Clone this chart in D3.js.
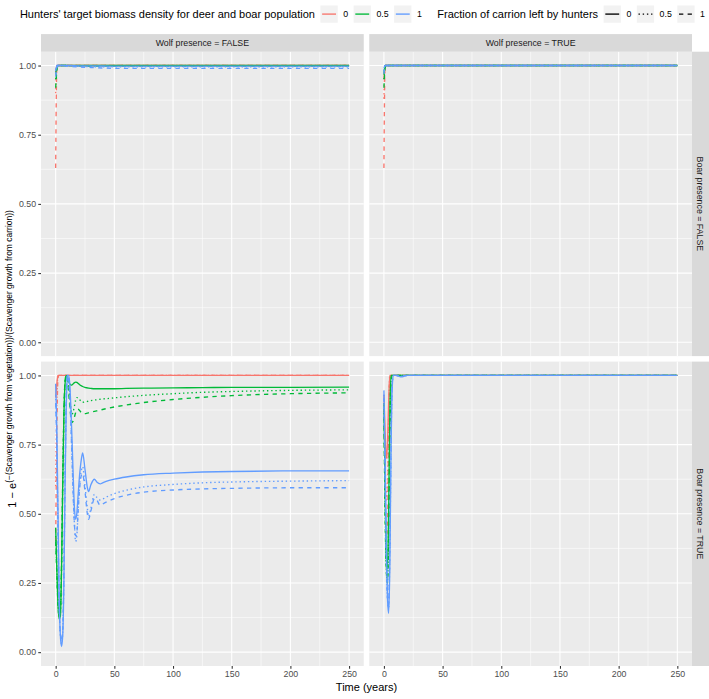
<!DOCTYPE html>
<html>
<head>
<meta charset="utf-8">
<script src="https://cdn.jsdelivr.net/npm/d3@7"></script>
<style>
  body { margin: 0; background: #fff; }
  svg { font-family: "Liberation Sans", Arial, sans-serif; }
</style>
</head>
<body>
<div id="chart"></div>
<script>
// facet labels
const wolfLevels = ["FALSE", "TRUE"];
const boarLevels = ["FALSE", "TRUE"];
const targetLevels = ["0", "0.5", "1"];
const carrionLevels = ["0", "0.5", "1"];
const targetColors = ["#F8766D", "#00BA38", "#619CFF"];
const xTicks = [0, 50, 100, 150, 200, 250];
const yTicks = [0, 0.25, 0.5, 0.75, 1];

// Wolf FALSE, Boar FALSE
const tTopLeft = [0, 1, 2, 3, 5, 10, 20, 30, 50, 75, 100, 150, 200, 250];
const tlR0  = [0.97, 1, 1, 1, 1, 1, 1, 1, 1, 1, 1, 1, 1, 1];
const tlR05 = [0.90, 1, 1, 1, 1, 1, 1, 1, 1, 1, 1, 1, 1, 1];
const tlR1  = [0.63, 0.99, 1, 1, 1, 1, 1, 1, 1, 1, 1, 1, 1, 1];
const tlG0  = [0.97, 0.995, 1, 1, 1, 1, 1, 1, 1, 1, 1, 1, 1, 1];
const tlG05 = [0.95, 0.99, 1, 1, 1, 1, 0.999, 0.999, 0.999, 0.999, 0.999, 0.999, 0.999, 0.999];
const tlG1  = [0.92, 0.98, 1, 1, 1, 1, 0.999, 0.998, 0.998, 0.998, 0.998, 0.998, 0.998, 0.998];
const tlB0  = [0.98, 1, 1, 1, 1, 1, 0.999, 0.999, 0.998, 0.998, 0.998, 0.998, 0.998, 0.998];
const tlB05 = [0.97, 1, 1, 1, 1, 0.999, 0.997, 0.996, 0.995, 0.995, 0.995, 0.995, 0.995, 0.995];
const tlB1  = [0.96, 0.99, 1, 1, 1, 0.998, 0.995, 0.993, 0.99, 0.99, 0.99, 0.99, 0.99, 0.99];

// Wolf TRUE, Boar FALSE
const tTopRight = [0, 1, 2, 3, 5, 10, 20, 50, 100, 250];
const trR0  = [0.95, 1, 1, 1, 1, 1, 1, 1, 1, 1];
const trR05 = [0.88, 1, 1, 1, 1, 1, 1, 1, 1, 1];
const trR1  = [0.63, 1, 1, 1, 1, 1, 1, 1, 1, 1];
const trG0  = [0.97, 1, 1, 1, 1, 1, 1, 1, 1, 1];
const trG05 = [0.95, 1, 1, 1, 1, 1, 1, 1, 1, 1];
const trG1  = [0.92, 0.99, 1, 1, 1, 1, 1, 1, 1, 1];
const trB0  = [0.99, 1, 1, 1, 1, 1, 1, 1, 1, 1];
const trB05 = [0.98, 1, 1, 1, 1, 1, 1, 1, 1, 1];
const trB1  = [0.97, 1, 1, 1, 1, 1, 1, 1, 1, 1];

// Wolf FALSE, Boar TRUE
const tBotLeft = [0, 1, 2, 3, 4, 5, 6, 7, 8, 9, 10, 11, 12, 13, 14, 15, 16, 17, 18, 19, 20, 22, 23, 25, 27, 28, 30, 33, 35, 38, 40, 43, 50, 60, 75, 100, 125, 150, 200, 250];
const blR0  = [0.92, 0.97, 1, 1, 1, 1, 1, 1, 1, 1, 1, 1, 1, 1, 1, 1, 1, 1, 1, 1, 1, 1, 1, 1, 1, 1, 1, 1, 1, 1, 1, 1, 1, 1, 1, 1, 1, 1, 1, 1];
const blR05 = [0.60, 0.90, 1, 1, 1, 1, 1, 1, 1, 1, 1, 1, 1, 1, 1, 1, 1, 1, 1, 1, 1, 1, 1, 1, 1, 1, 1, 1, 1, 1, 1, 1, 1, 1, 1, 1, 1, 1, 1, 1];
const blR1  = [0.40, 0.80, 0.99, 1, 1, 1, 1, 1, 1, 1, 1, 1, 1, 1, 1, 1, 1, 1, 1, 1, 1, 1, 1, 1, 1, 1, 1, 1, 1, 1, 1, 1, 1, 1, 1, 1, 1, 1, 1, 1];
const blG0  = [0.45, 0.30, 0.17, 0.12, 0.13, 0.30, 0.60, 0.85, 0.97, 1.0, 0.995, 0.98, 0.97, 0.965, 0.966, 0.97, 0.974, 0.976, 0.975, 0.972, 0.968, 0.962, 0.96, 0.957, 0.955, 0.954, 0.953, 0.952, 0.952, 0.952, 0.952, 0.952, 0.952, 0.953, 0.954, 0.955, 0.956, 0.957, 0.957, 0.958];
const blG05 = [0.42, 0.30, 0.18, 0.13, 0.14, 0.30, 0.60, 0.85, 0.98, 1.0, 0.99, 0.96, 0.92, 0.88, 0.86, 0.87, 0.89, 0.91, 0.92, 0.92, 0.915, 0.905, 0.903, 0.904, 0.906, 0.907, 0.909, 0.911, 0.912, 0.914, 0.915, 0.916, 0.919, 0.923, 0.928, 0.934, 0.939, 0.942, 0.946, 0.948];
const blG1  = [0.40, 0.28, 0.17, 0.13, 0.15, 0.32, 0.62, 0.86, 0.98, 1.0, 0.98, 0.94, 0.89, 0.85, 0.83, 0.835, 0.85, 0.865, 0.875, 0.878, 0.875, 0.865, 0.862, 0.862, 0.864, 0.865, 0.867, 0.87, 0.872, 0.875, 0.877, 0.88, 0.886, 0.893, 0.902, 0.913, 0.921, 0.927, 0.934, 0.937];
const blB0  = [0.97, 0.80, 0.50, 0.20, 0.06, 0.02, 0.06, 0.25, 0.60, 0.88, 1.0, 1.0, 0.97, 0.88, 0.76, 0.63, 0.52, 0.48, 0.50, 0.56, 0.62, 0.70, 0.72, 0.66, 0.595, 0.58, 0.605, 0.625, 0.615, 0.608, 0.612, 0.617, 0.625, 0.633, 0.641, 0.647, 0.651, 0.653, 0.655, 0.655];
const blB05 = [0.93, 0.75, 0.45, 0.18, 0.06, 0.03, 0.07, 0.28, 0.62, 0.90, 1.0, 0.99, 0.94, 0.83, 0.70, 0.57, 0.46, 0.40, 0.42, 0.50, 0.58, 0.66, 0.67, 0.60, 0.52, 0.49, 0.52, 0.57, 0.56, 0.55, 0.553, 0.56, 0.573, 0.585, 0.597, 0.606, 0.612, 0.615, 0.618, 0.62];
const blB1  = [0.90, 0.72, 0.42, 0.17, 0.07, 0.04, 0.08, 0.30, 0.64, 0.92, 1.0, 0.985, 0.93, 0.82, 0.69, 0.56, 0.46, 0.42, 0.43, 0.50, 0.57, 0.64, 0.645, 0.58, 0.50, 0.48, 0.51, 0.555, 0.55, 0.53, 0.535, 0.542, 0.555, 0.567, 0.578, 0.586, 0.59, 0.592, 0.594, 0.594];

// Wolf TRUE, Boar TRUE
const tBotRight = [0, 1, 2, 3, 4, 5, 6, 7, 8, 10, 12, 15, 17, 20, 25, 50, 100, 250];
const brR0  = [0.93, 0.80, 0.70, 0.75, 0.90, 1, 1, 1, 1, 1, 1, 1, 1, 1, 1, 1, 1, 1];
const brR05 = [0.90, 0.70, 0.55, 0.60, 0.85, 1, 1, 1, 1, 1, 1, 1, 1, 1, 1, 1, 1, 1];
const brR1  = [0.88, 0.60, 0.42, 0.45, 0.80, 0.99, 1, 1, 1, 1, 1, 1, 1, 1, 1, 1, 1, 1];
const brG0  = [0.90, 0.60, 0.35, 0.30, 0.50, 0.85, 1, 1, 1, 1, 1, 1, 1, 1, 1, 1, 1, 1];
const brG05 = [0.88, 0.55, 0.30, 0.26, 0.45, 0.80, 0.98, 1, 1, 1, 1, 1, 1, 1, 1, 1, 1, 1];
const brG1  = [0.85, 0.50, 0.30, 0.25, 0.40, 0.75, 0.97, 1, 1, 1, 1, 1, 1, 1, 1, 1, 1, 1];
const brB0  = [0.946, 0.70, 0.40, 0.20, 0.14, 0.30, 0.70, 0.95, 1, 1, 0.998, 0.995, 0.997, 1, 1, 1, 1, 1];
const brB05 = [0.93, 0.65, 0.38, 0.20, 0.16, 0.35, 0.72, 0.96, 1, 1, 0.999, 0.997, 0.998, 1, 1, 1, 1, 1];
const brB1  = [0.92, 0.62, 0.35, 0.20, 0.17, 0.38, 0.75, 0.97, 1, 1, 1, 0.998, 0.999, 1, 1, 1, 1, 1];

const panels = [
  {wolf: 0, boar: 0, t: tTopLeft,  vals: [tlR0, tlR05, tlR1, tlG0, tlG05, tlG1, tlB0, tlB05, tlB1]},
  {wolf: 1, boar: 0, t: tTopRight, vals: [trR0, trR05, trR1, trG0, trG05, trG1, trB0, trB05, trB1]},
  {wolf: 0, boar: 1, t: tBotLeft,  vals: [blR0, blR05, blR1, blG0, blG05, blG1, blB0, blB05, blB1]},
  {wolf: 1, boar: 1, t: tBotRight, vals: [brR0, brR05, brR1, brG0, brG05, brG1, brB0, brB05, brB1]}
];

const width = 709, height = 699;
const dashes = [null, "1.4,2.8", "4.3,4.3"];

const svg = d3.select("#chart").append("svg")
  .attr("width", width).attr("height", height);

// layout
const panelLeft = 41, panelRight = 692, panelTop = 51.7, panelBottom = 666;
const gap = 5.5, stripH = 17.6;
const pw = (panelRight - panelLeft - gap) / 2;
const ph = (panelBottom - panelTop - gap) / 2;

const x = d3.scaleLinear().domain([-12.5, 262.5]).range([0, pw]);
const y = d3.scaleLinear().domain([-0.05, 1.05]).range([ph, 0]);

const line = d3.line()
  .x(d => x(d[0])).y(d => y(d[1]))
  .curve(d3.curveMonotoneX);

panels.forEach((p, pi) => {
  const px = panelLeft + p.wolf * (pw + gap);
  const py = panelTop + p.boar * (ph + gap);
  const g = svg.append("g").attr("transform", `translate(${px},${py})`);

  g.append("rect").attr("width", pw).attr("height", ph).attr("fill", "#EBEBEB");

  // minor grid
  [25, 75, 125, 175, 225].forEach(v => {
    g.append("line").attr("x1", x(v)).attr("x2", x(v)).attr("y1", 0).attr("y2", ph)
      .attr("stroke", "#fff").attr("stroke-width", 0.55);
  });
  [0.125, 0.375, 0.625, 0.875].forEach(v => {
    g.append("line").attr("x1", 0).attr("x2", pw).attr("y1", y(v)).attr("y2", y(v))
      .attr("stroke", "#fff").attr("stroke-width", 0.55);
  });
  xTicks.forEach(v => {
    g.append("line").attr("x1", x(v)).attr("x2", x(v)).attr("y1", 0).attr("y2", ph)
      .attr("stroke", "#fff").attr("stroke-width", 1.1);
  });
  yTicks.forEach(v => {
    g.append("line").attr("x1", 0).attr("x2", pw).attr("y1", y(v)).attr("y2", y(v))
      .attr("stroke", "#fff").attr("stroke-width", 1.1);
  });

  g.append("clipPath").attr("id", "clip" + pi)
    .append("rect").attr("width", pw).attr("height", ph);

  const lg = g.append("g").attr("clip-path", `url(#clip${pi})`);
  p.vals.forEach((vals, si) => {
    const ci = Math.floor(si / 3), li = si % 3;
    const pts = p.t.map((t, i) => [t, vals[i]]);
    lg.append("path").datum(pts)
      .attr("d", line)
      .attr("fill", "none")
      .attr("stroke", targetColors[ci])
      .attr("stroke-width", 1.35)
      .attr("stroke-dasharray", dashes[li]);
  });

  // top strips
  if (p.boar === 0) {
    svg.append("rect").attr("x", px).attr("y", panelTop - stripH)
      .attr("width", pw).attr("height", stripH).attr("fill", "#D9D9D9");
    svg.append("text").attr("x", px + pw / 2).attr("y", panelTop - stripH / 2)
      .attr("dy", "0.35em").attr("text-anchor", "middle")
      .attr("font-size", 8.8).attr("fill", "#1A1A1A")
      .text("Wolf presence = " + wolfLevels[p.wolf]);
  }
  // right strips
  if (p.wolf === 1) {
    svg.append("rect").attr("x", panelRight).attr("y", py)
      .attr("width", width - panelRight).attr("height", ph).attr("fill", "#D9D9D9");
    svg.append("text")
      .attr("transform", `translate(${panelRight + (width - panelRight) / 2},${py + ph / 2}) rotate(90)`)
      .attr("dy", "0.35em").attr("text-anchor", "middle")
      .attr("font-size", 8.8).attr("fill", "#1A1A1A")
      .text("Boar presence = " + boarLevels[p.boar]);
  }
  // axes
  if (p.boar === 1) {
    const ax = svg.append("g").attr("transform", `translate(${px},${py + ph})`)
      .call(d3.axisBottom(x).tickValues(xTicks).tickSize(2.75).tickPadding(2.2).tickFormat(d3.format("d")));
    styleAxis(ax);
  }
  if (p.wolf === 0) {
    const ay = svg.append("g").attr("transform", `translate(${px},${py})`)
      .call(d3.axisLeft(y).tickValues(yTicks).tickSize(2.75).tickPadding(2.2).tickFormat(d3.format(".2f")));
    styleAxis(ay);
  }
});

function styleAxis(a) {
  a.select(".domain").remove();
  a.selectAll(".tick line").attr("stroke", "#333333").attr("stroke-width", 1.07);
  a.selectAll(".tick text").attr("fill", "#4D4D4D").attr("font-size", 8.8)
    .attr("font-family", "Liberation Sans, Arial, sans-serif");
}

// axis titles
svg.append("text").attr("x", (panelLeft + panelRight) / 2).attr("y", 691)
  .attr("text-anchor", "middle").attr("font-size", 11).attr("fill", "#000")
  .text("Time (years)");

const yt = svg.append("text")
  .attr("transform", `translate(16,${(panelTop + panelBottom) / 2}) rotate(-90)`)
  .attr("text-anchor", "middle").attr("font-size", 11).attr("fill", "#000");
yt.append("tspan").text("1 − e");
yt.append("tspan").attr("dy", -4.5).attr("font-size", 8.5)
  .text("(−(Scavenger growth from vegetation))/(Scavenger growth from carrion))");

// legends
const leg = svg.append("g");
let cx = 0;
const keyW = 17.28, legY = 14.1;
function addTitle(txt) {
  const t = leg.append("text").attr("x", cx).attr("y", legY).attr("dy", "0.35em")
    .attr("font-size", 11).attr("fill", "#000").text(txt);
  cx += t.node().getComputedTextLength() + 5.5;
}
function addKey(color, dash, label) {
  leg.append("rect").attr("x", cx).attr("y", legY - keyW / 2)
    .attr("width", keyW).attr("height", keyW).attr("fill", "#F2F2F2");
  leg.append("line").attr("x1", cx + 1.7).attr("x2", cx + keyW - 1.7)
    .attr("y1", legY).attr("y2", legY)
    .attr("stroke", color).attr("stroke-width", 1.35).attr("stroke-dasharray", dash);
  cx += keyW + 5.5;
  const t = leg.append("text").attr("x", cx).attr("y", legY).attr("dy", "0.35em")
    .attr("font-size", 8.8).attr("fill", "#000").text(label);
  cx += t.node().getComputedTextLength() + 5.5;
}
addTitle("Hunters' target biomass density for deer and boar population");
targetLevels.forEach((lv, i) => addKey(targetColors[i], null, lv));
cx += 10;
addTitle("Fraction of carrion left by hunters");
carrionLevels.forEach((lv, i) => addKey("#000", dashes[i], lv));
const legW = cx - 5.5;
// keep the whole legend row inside the page
const legX = Math.max(4, Math.min(365 - legW / 2, width - 4 - legW));
leg.attr("transform", `translate(${legX},0)`);
</script>
</body>
</html>
